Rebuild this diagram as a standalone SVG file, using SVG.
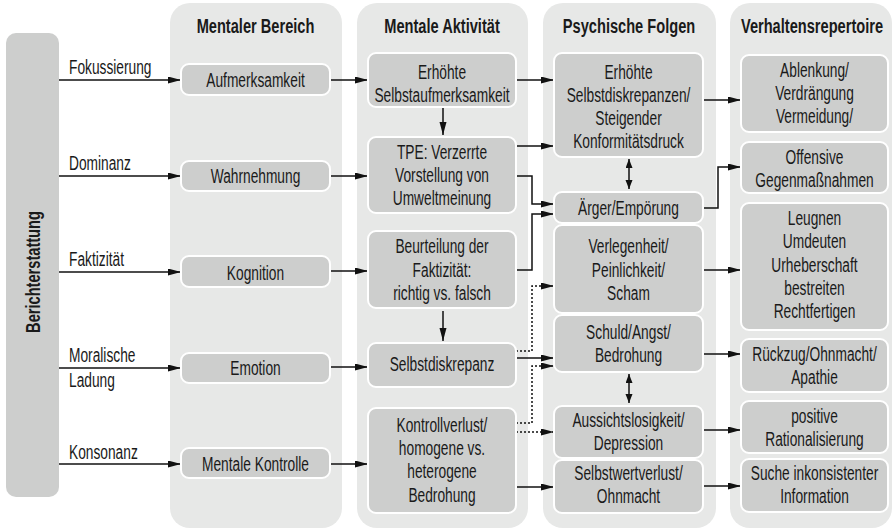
<svg xmlns="http://www.w3.org/2000/svg" width="895" height="531" viewBox="0 0 895 531">
<style>
.col{fill:#e7e8e7}
.bar{fill:#cdcecd}
.node rect{fill:#cdcecd;stroke:#ffffff;stroke-width:2}
text{font-family:"Liberation Sans",Arial,sans-serif;font-size:19.5px;fill:#1a1a1a}
.c{text-anchor:middle}
.b{font-weight:bold}
.ln{fill:none;stroke:#111;stroke-width:1.5}
.arr{marker-end:url(#ah)}
.dot{stroke-dasharray:2 2}
.dbl{marker-end:url(#sh);marker-start:url(#sh)}
</style>
<defs>
<marker id="ah" markerUnits="userSpaceOnUse" markerWidth="14" markerHeight="8" refX="13" refY="3.5" orient="auto"><path d="M0,0 L13,3.5 L0,7 z" fill="#111"/></marker>
<marker id="sh" markerUnits="userSpaceOnUse" markerWidth="10" markerHeight="8" refX="9" refY="3.5" orient="auto-start-reverse"><path d="M0,0 L9,3.5 L0,7 z" fill="#111"/></marker>
</defs>
<rect width="895" height="531" fill="#ffffff"/>
<g id="columns">
<rect class="col" x="170" y="3" width="172" height="525" rx="20"/>
<rect class="col" x="357" y="3" width="171" height="525" rx="20"/>
<rect class="col" x="543" y="3" width="173" height="525" rx="20"/>
<rect class="col" x="730" y="3" width="162" height="525" rx="20"/>
<text class="c b" transform="translate(255.5,0) scale(0.75,1)" x="0" y="33">Mentaler Bereich</text>
<text class="c b" transform="translate(442,0) scale(0.75,1)" x="0" y="33">Mentale Aktivität</text>
<text class="c b" transform="translate(629,0) scale(0.75,1)" x="0" y="33">Psychische Folgen</text>
<text class="c b" transform="translate(812,0) scale(0.75,1)" x="0" y="33">Verhaltensrepertoire</text>
</g>
<g id="berichterstattung">
<rect class="bar" x="6" y="33" width="53" height="464" rx="10"/>
<text class="c b" transform="translate(40,272) rotate(-90) scale(0.75,1)" x="0" y="0">Berichterstattung</text>
</g>
<g id="connectors">
<path class="ln arr" d="M59,80 H181"/>
<path class="ln arr" d="M59,176 H181"/>
<path class="ln arr" d="M59,272 H181"/>
<path class="ln arr" d="M59,368 H181"/>
<path class="ln arr" d="M59,464 H181"/>
<text transform="translate(69,0) scale(0.705,1)" x="0" y="74">Fokussierung</text>
<text transform="translate(69,0) scale(0.705,1)" x="0" y="170">Dominanz</text>
<text transform="translate(69,0) scale(0.705,1)" x="0" y="266">Faktizität</text>
<text transform="translate(69,0) scale(0.705,1)" x="0" y="362">Moralische</text>
<text transform="translate(69,0) scale(0.705,1)" x="0" y="387">Ladung</text>
<text transform="translate(69,0) scale(0.705,1)" x="0" y="459">Konsonanz</text>
<path class="ln arr" d="M330,80 H368"/>
<path class="ln arr" d="M330,176 H368"/>
<path class="ln arr" d="M330,271 H368"/>
<path class="ln arr" d="M330,367 H368"/>
<path class="ln arr" d="M330,464 H368"/>
<path class="ln arr" d="M443,108 V135"/>
<path class="ln arr" d="M443,311 V341"/>
<path class="ln arr" d="M516,80 H554"/>
<path class="ln arr" d="M516,146 H554"/>
<path class="ln arr" d="M516,176 H532 V204 H554"/>
<path class="ln arr" d="M516,270 H532 V214 H554"/>
<path class="ln arr dot" d="M516,351 H532 V286 H554"/>
<path class="ln arr" d="M516,358 H554"/>
<path class="ln arr dot" d="M516,423 H532 V366 H554"/>
<path class="ln arr dot" d="M516,432 H554"/>
<path class="ln arr" d="M516,487 H554"/>
<path class="ln dbl" d="M629,159 V189"/>
<path class="ln dbl" d="M629,374 V403"/>
<path class="ln arr" d="M703,100 H741"/>
<path class="ln arr" d="M703,208 H718 V167 H741"/>
<path class="ln arr" d="M703,270 H741"/>
<path class="ln arr" d="M703,354 H741"/>
<path class="ln arr" d="M703,430 H741"/>
<path class="ln arr" d="M703,486 H741"/>
</g>
<g id="n-aufmerksamkeit" class="node"><rect x="181" y="64" width="149" height="31" rx="8"/><text class="c" transform="translate(255.5,0) scale(0.705,1)" x="0" y="87">Aufmerksamkeit</text></g>
<g id="n-wahrnehmung" class="node"><rect x="181" y="161" width="149" height="30" rx="8"/><text class="c" transform="translate(255.5,0) scale(0.705,1)" x="0" y="183">Wahrnehmung</text></g>
<g id="n-kognition" class="node"><rect x="181" y="256" width="149" height="31" rx="8"/><text class="c" transform="translate(255.5,0) scale(0.705,1)" x="0" y="280">Kognition</text></g>
<g id="n-emotion" class="node"><rect x="181" y="353" width="149" height="30" rx="8"/><text class="c" transform="translate(255.5,0) scale(0.705,1)" x="0" y="375">Emotion</text></g>
<g id="n-kontrolle" class="node"><rect x="181" y="448" width="149" height="30" rx="8"/><text class="c" transform="translate(255.5,0) scale(0.705,1)" x="0" y="471">Mentale Kontrolle</text></g>
<g id="n-selbstaufmerksamkeit" class="node"><rect x="368" y="53" width="148" height="54" rx="8"/><text class="c" transform="translate(442,0) scale(0.705,1)"><tspan x="0" y="79">Erhöhte</tspan><tspan x="0" y="102">Selbstaufmerksamkeit</tspan></text></g>
<g id="n-tpe" class="node"><rect x="368" y="137" width="148" height="76" rx="8"/><text class="c" transform="translate(442,0) scale(0.705,1)"><tspan x="0" y="159">TPE: Verzerrte</tspan><tspan x="0" y="182">Vorstellung von</tspan><tspan x="0" y="205">Umweltmeinung</tspan></text></g>
<g id="n-beurteilung" class="node"><rect x="368" y="231" width="148" height="77" rx="8"/><text class="c" transform="translate(442,0) scale(0.705,1)"><tspan x="0" y="253">Beurteilung der</tspan><tspan x="0" y="277">Faktizität:</tspan><tspan x="0" y="300">richtig vs. falsch</tspan></text></g>
<g id="n-selbstdiskrepanz" class="node"><rect x="368" y="343" width="148" height="44" rx="8"/><text class="c" transform="translate(442,0) scale(0.705,1)" x="0" y="371">Selbstdiskrepanz</text></g>
<g id="n-kontrollverlust" class="node"><rect x="368" y="408" width="148" height="105" rx="8"/><text class="c" transform="translate(442,0) scale(0.705,1)"><tspan x="0" y="432">Kontrollverlust/</tspan><tspan x="0" y="455">homogene vs.</tspan><tspan x="0" y="478">heterogene</tspan><tspan x="0" y="502">Bedrohung</tspan></text></g>
<g id="n-selbstdiskrepanzen" class="node"><rect x="554" y="53" width="149" height="104" rx="8"/><text class="c" transform="translate(628.5,0) scale(0.705,1)"><tspan x="0" y="79">Erhöhte</tspan><tspan x="0" y="102">Selbstdiskrepanzen/</tspan><tspan x="0" y="125">Steigender</tspan><tspan x="0" y="148">Konformitätsdruck</tspan></text></g>
<g id="n-aerger" class="node"><rect x="554" y="192" width="149" height="31" rx="8"/><text class="c" transform="translate(628.5,0) scale(0.705,1)" x="0" y="215">Ärger/Empörung</text></g>
<g id="n-verlegenheit" class="node"><rect x="554" y="225" width="149" height="88" rx="8"/><text class="c" transform="translate(628.5,0) scale(0.705,1)"><tspan x="0" y="253">Verlegenheit/</tspan><tspan x="0" y="277">Peinlichkeit/</tspan><tspan x="0" y="300">Scham</tspan></text></g>
<g id="n-schuld" class="node"><rect x="554" y="315" width="149" height="57" rx="8"/><text class="c" transform="translate(628.5,0) scale(0.705,1)"><tspan x="0" y="339">Schuld/Angst/</tspan><tspan x="0" y="362">Bedrohung</tspan></text></g>
<g id="n-aussichtslosigkeit" class="node"><rect x="554" y="406" width="149" height="52" rx="8"/><text class="c" transform="translate(628.5,0) scale(0.705,1)"><tspan x="0" y="427">Aussichtslosigkeit/</tspan><tspan x="0" y="450">Depression</tspan></text></g>
<g id="n-selbstwertverlust" class="node"><rect x="554" y="460" width="149" height="53" rx="8"/><text class="c" transform="translate(628.5,0) scale(0.705,1)"><tspan x="0" y="480">Selbstwertverlust/</tspan><tspan x="0" y="503">Ohnmacht</tspan></text></g>
<g id="n-ablenkung" class="node"><rect x="741" y="55" width="147" height="77" rx="8"/><text class="c" transform="translate(814.5,0) scale(0.705,1)"><tspan x="0" y="77">Ablenkung/</tspan><tspan x="0" y="100">Verdrängung</tspan><tspan x="0" y="123">Vermeidung/</tspan></text></g>
<g id="n-offensive" class="node"><rect x="741" y="142" width="147" height="51" rx="8"/><text class="c" transform="translate(814.5,0) scale(0.705,1)"><tspan x="0" y="164">Offensive</tspan><tspan x="0" y="187">Gegenmaßnahmen</tspan></text></g>
<g id="n-leugnen" class="node"><rect x="741" y="203" width="147" height="127" rx="8"/><text class="c" transform="translate(814.5,0) scale(0.705,1)"><tspan x="0" y="225">Leugnen</tspan><tspan x="0" y="248">Umdeuten</tspan><tspan x="0" y="272">Urheberschaft</tspan><tspan x="0" y="295">bestreiten</tspan><tspan x="0" y="318">Rechtfertigen</tspan></text></g>
<g id="n-rueckzug" class="node"><rect x="741" y="339" width="147" height="53" rx="8"/><text class="c" transform="translate(814.5,0) scale(0.705,1)"><tspan x="0" y="361">Rückzug/Ohnmacht/</tspan><tspan x="0" y="384">Apathie</tspan></text></g>
<g id="n-positive" class="node"><rect x="741" y="401" width="147" height="52" rx="8"/><text class="c" transform="translate(814.5,0) scale(0.705,1)"><tspan x="0" y="423">positive</tspan><tspan x="0" y="446">Rationalisierung</tspan></text></g>
<g id="n-suche" class="node"><rect x="741" y="459" width="147" height="53" rx="8"/><text class="c" transform="translate(814.5,0) scale(0.705,1)"><tspan x="0" y="480">Suche inkonsistenter</tspan><tspan x="0" y="503">Information</tspan></text></g>
</svg>
